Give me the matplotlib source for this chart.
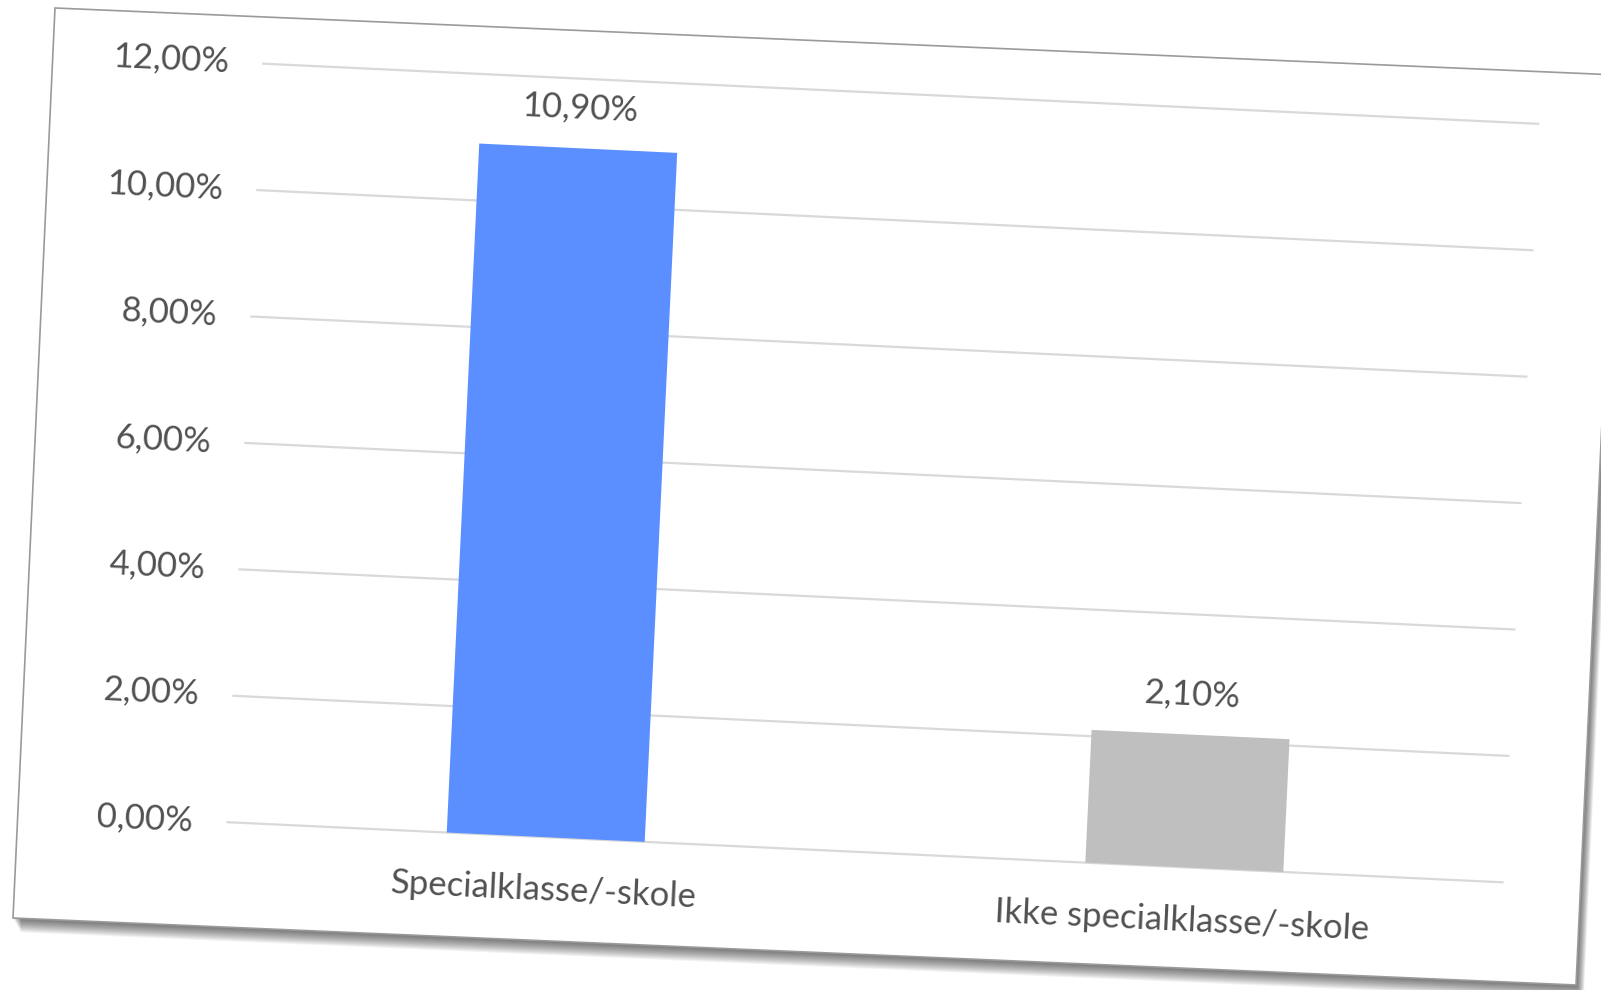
import matplotlib
matplotlib.use("Agg")
from matplotlib import pyplot as plt
from matplotlib.patches import Polygon
from matplotlib.transforms import Affine2D
from mpl_toolkits.axisartist import floating_axes
from mpl_toolkits.axisartist.grid_finder import FixedLocator, DictFormatter

# data (percent)
categories = ["Specialklasse/-skole", "Ikke specialklasse/-skole"]
values = [10.90, 2.10]
value_labels = ["10,90%", "2,10%"]
bar_colors = ["#5B8FFF", "#BFBFBF"]
y_ticks = [0, 2, 4, 6, 8, 10, 12]
y_tick_labels = ["0,00%", "2,00%", "4,00%", "6,00%", "8,00%", "10,00%", "12,00%"]

W, H = 1601, 990
TILT = -2.7
TEXT = "#515151"
plt.rcParams["font.family"] = ["Lato", "DejaVu Sans"]


def px(points):
    # image pixel coords (y down) -> figure fraction
    return [(x / W, 1 - y / H) for x, y in points]


def main():
    fig = plt.figure(figsize=(W / 100, H / 100), dpi=100)
    fig.patch.set_facecolor("white")

    # the tilted chart sheet with a soft shadow
    sheet = [(55, 8), (1618, 75), (1576, 985), (13, 918)]
    for k in range(1, 14):
        shadow = [(x + k * 0.6, y + k * 1.1) for x, y in sheet]
        fig.add_artist(Polygon(px(shadow), closed=True, transform=fig.transFigure,
                               facecolor="black", edgecolor="none", alpha=0.05, zorder=-3))
    fig.add_artist(Polygon(px(sheet), closed=True, transform=fig.transFigure,
                           facecolor="white", edgecolor="#9A9A9A", lw=1.2, zorder=-2))

    # rotated plot area: x in category units, y in percent
    tr = Affine2D().scale(639, 63.25).rotate_deg(TILT)
    grid_helper = floating_axes.GridHelperCurveLinear(
        tr, extremes=(-0.5, 1.5, 0, 12),
        grid_locator1=FixedLocator([0, 1]),
        tick_formatter1=DictFormatter(dict(enumerate(categories))),
        grid_locator2=FixedLocator(y_ticks),
        tick_formatter2=DictFormatter(dict(zip(y_ticks, y_tick_labels))))
    ax = fig.add_axes([213.3 / W, 99.4 / H, 1339.2 / W, 835.2 / H],
                      axes_class=floating_axes.FloatingAxes, grid_helper=grid_helper)
    ax.patch.set_facecolor("none")

    for side in ["top", "right", "bottom", "left"]:
        ax.axis[side].line.set_visible(False)
        ax.axis[side].major_ticks.set_visible(False)
    ax.axis["top"].major_ticklabels.set_visible(False)
    ax.axis["right"].major_ticklabels.set_visible(False)

    ax.axis["left"].major_ticklabels.set(fontsize=25, color=TEXT)
    ax.axis["left"].major_ticklabels.set_pad(24)
    ax.axis["bottom"].major_ticklabels.set(fontsize=25, color=TEXT)
    ax.axis["bottom"].major_ticklabels.set_pad(27)

    aux = ax.get_aux_axes(tr)
    aux.hlines(y_ticks, -0.5, 1.5, color="#D9D9D9", lw=1.6, zorder=0)
    aux.bar(range(len(values)), values, width=0.31, color=bar_colors, zorder=2)
    for i, v in enumerate(values):
        aux.text(i, v + 0.63, value_labels[i], ha="center", va="center",
                 rotation=TILT, rotation_mode="anchor", fontsize=25, color=TEXT)

    fig.savefig("out.png", dpi=100)


if __name__ == "__main__":
    main()
